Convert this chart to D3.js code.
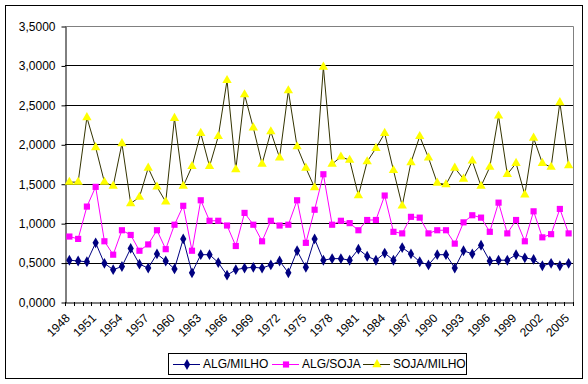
<!DOCTYPE html>
<html>
<head>
<meta charset="utf-8">
<script src="https://cdn.jsdelivr.net/npm/d3@7"></script>
<style>
  html, body { margin: 0; padding: 0; background: #ffffff; }
  svg { display: block; font-family: "Liberation Sans", Arial, sans-serif; }
</style>
</head>
<body>
<svg id="chart" width="588" height="384"></svg>
<script>
const years = d3.range(1948, 2006);
const yTicks = [0, 0.5, 1.0, 1.5, 2.0, 2.5, 3.0, 3.5];
const xLabelYears = d3.range(1948, 2006, 3);
const seriesNames = ["ALG/MILHO", "ALG/SOJA", "SOJA/MILHO"];

const algMilho = [0.53,0.52,0.51,0.75,0.49,0.41,0.45,0.68,0.48,0.43,0.61,0.52,0.42,0.80,0.37,
  0.60,0.60,0.50,0.34,0.41,0.43,0.44,0.43,0.47,0.52,0.37,0.65,0.44,0.80,
  0.53,0.55,0.55,0.53,0.67,0.58,0.53,0.62,0.53,0.69,0.61,0.51,0.47,0.60,
  0.60,0.43,0.65,0.61,0.72,0.52,0.53,0.53,0.60,0.56,0.54,0.46,0.49,0.46,0.49];
const algSoja = [0.83,0.80,1.21,1.46,0.77,0.60,0.91,0.85,0.65,0.73,0.91,0.67,0.98,1.22,0.65,
  1.29,1.03,1.03,0.97,0.71,1.13,0.98,0.77,1.03,0.97,0.98,1.29,0.75,1.17,
  1.62,0.98,1.03,1.00,0.91,1.04,1.04,1.35,0.89,0.87,1.08,1.07,0.87,0.91,
  0.91,0.74,1.01,1.10,1.07,0.89,1.26,0.87,1.04,0.77,1.15,0.82,0.86,1.18,0.87];
const sojaMilho = [1.52,1.52,2.34,1.96,1.52,1.47,2.01,1.25,1.33,1.70,1.46,1.27,2.33,1.47,1.72,
  2.14,1.72,2.10,2.81,1.68,2.63,2.21,1.75,2.16,1.83,2.68,1.97,1.70,1.45,
  2.98,1.75,1.84,1.80,1.35,1.78,1.95,2.14,1.67,1.22,1.77,2.10,1.83,1.51,
  1.49,1.70,1.56,1.79,1.47,1.71,2.36,1.62,1.76,1.36,2.08,1.76,1.71,2.53,1.73];

const svg = d3.select("#chart");
const pLeft = 65, pRight = 573, pTop = 26, pBottom = 302;

// outer chart frame
svg.append("rect").attr("x", 5.5).attr("y", 5.5).attr("width", 577).attr("height", 373)
  .attr("fill", "#ffffff").attr("stroke", "#000").attr("stroke-width", 1);

const x = d3.scaleBand().domain(years).range([pLeft, pRight]).padding(0);
const y = d3.scaleLinear().domain([0, 3.5]).range([pBottom, pTop]);
const cx = d => x(d) + x.bandwidth() / 2;

// gridlines
svg.append("g").selectAll("line").data(yTicks.filter(v => v > 0 && v < 3.5)).join("line")
  .attr("x1", pLeft).attr("x2", pRight)
  .attr("y1", d => Math.round(y(d)) + 0.5).attr("y2", d => Math.round(y(d)) + 0.5)
  .attr("stroke", "#000").attr("stroke-width", 1);

// plot area border (top & right, gray)
svg.append("path")
  .attr("d", `M${pLeft},${Math.round(y(3.5)) + 0.5}H${pRight + 0.5}V${pBottom}`)
  .attr("fill", "none").attr("stroke", "#808080").attr("stroke-width", 1);

// y axis
const fmt = v => d3.format(".4f")(v).replace(".", ",");
const yAxis = svg.append("g").attr("transform", `translate(${pLeft + 0.5},0.5)`)
  .call(d3.axisLeft(y).tickValues(yTicks).tickFormat(fmt).tickSize(4).tickSizeOuter(0).tickPadding(6));
yAxis.select(".domain").attr("stroke", "#000");
yAxis.selectAll(".tick line").attr("stroke", "#000");
yAxis.selectAll("text").attr("font-size", 12).attr("fill", "#000")
  .attr("font-family", "Liberation Sans, Arial, sans-serif");

// x axis (labels only; tick marks at category boundaries)
const xAxis = svg.append("g").attr("transform", `translate(0,${pBottom + 0.5})`)
  .call(d3.axisBottom(x).tickSize(0).tickSizeOuter(0)
    .tickFormat(d => xLabelYears.includes(d) ? String(d) : ""));
xAxis.select(".domain").attr("stroke", "#000");
xAxis.selectAll("text")
  .attr("font-size", 12).attr("fill", "#000")
  .attr("font-family", "Liberation Sans, Arial, sans-serif")
  .attr("text-anchor", "end")
  .attr("dy", null).attr("y", null)
  .attr("transform", "translate(-1,14) rotate(-45)")
  .attr("dominant-baseline", "middle");
svg.append("g").selectAll("line").data(years.concat(["end"])).join("line")
  .attr("x1", d => d === "end" ? pRight + 0.5 : Math.round(x(d)) + 0.5)
  .attr("x2", d => d === "end" ? pRight + 0.5 : Math.round(x(d)) + 0.5)
  .attr("y1", pBottom).attr("y2", pBottom + 4)
  .attr("stroke", "#000");

// series
const series = [
  { name: seriesNames[0], values: algMilho, line: "#000080", fill: "#000080", shape: d3.symbolDiamond, size: 34 },
  { name: seriesNames[1], values: algSoja, line: "#ff00ff", fill: "#ff00ff", shape: d3.symbolSquare, size: 38 },
  { name: seriesNames[2], values: sojaMilho, line: "#333300", fill: "#ffff00", shape: d3.symbolTriangle, size: 38 }
];

const lineGen = d3.line().x((d, i) => cx(years[i])).y(d => y(d));

series.forEach(s => {
  svg.append("path").datum(s.values).attr("d", lineGen)
    .attr("fill", "none").attr("stroke", s.line).attr("stroke-width", 1);
});
series.forEach(s => {
  svg.append("g").selectAll("path").data(s.values).join("path")
    .attr("transform", (d, i) => `translate(${cx(years[i])},${y(d)})`)
    .attr("d", d3.symbol().type(s.shape).size(s.size))
    .attr("fill", s.fill).attr("stroke", "none");
});

// legend
const lg = svg.append("g");
lg.append("rect").attr("x", 168.5).attr("y", 353.5).attr("width", 298).attr("height", 21)
  .attr("fill", "#fff").attr("stroke", "#000");
const legendX = [173, 272, 363];
series.forEach((s, i) => {
  const g = lg.append("g").attr("transform", `translate(${legendX[i]},364)`);
  g.append("line").attr("x1", 0).attr("x2", 27).attr("y1", 0.5).attr("y2", 0.5)
    .attr("stroke", s.line).attr("stroke-width", 1);
  g.append("path").attr("transform", "translate(14,0.5)")
    .attr("d", d3.symbol().type(s.shape).size(s.size)).attr("fill", s.fill);
  g.append("text").attr("x", 30).attr("y", 0).attr("dy", "0.35em")
    .attr("font-size", 12).attr("fill", "#000").text(s.name);
});
</script>
</body>
</html>
